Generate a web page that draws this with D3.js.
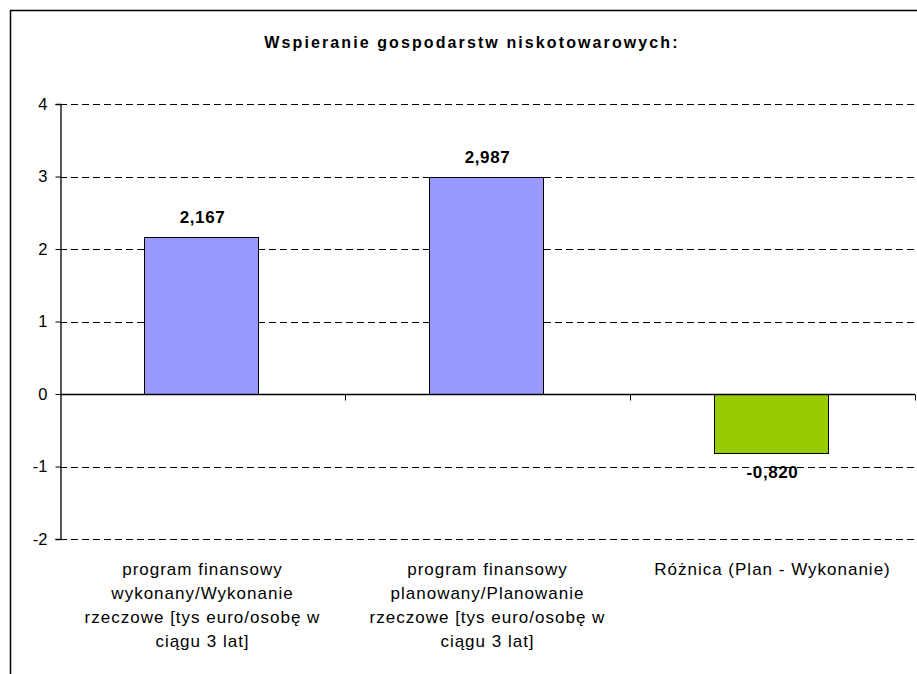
<!DOCTYPE html>
<html lang="pl">
<head>
<meta charset="UTF-8">
<title>Wspieranie gospodarstw niskotowarowych</title>
<script src="https://cdn.jsdelivr.net/npm/d3@7"></script>
<style>
    body{ margin:0; background:#fff; }
    svg{ display:block; font-family:"Liberation Sans", Arial, sans-serif; }
    .grid line{ stroke:#000; stroke-width:1px; stroke-dasharray:7,4; }
    .yaxis text{ font-size:16.5px; fill:#000; }
    .label{ font-size:17px; font-weight:bold; letter-spacing:0.6px; }
    .cat{ font-size:17px; letter-spacing:1px; }
</style>
</head>
<body>
<svg id="main" width="917" height="674"></svg>
<script>
    const categories = [
        ["program finansowy", "wykonany/Wykonanie", "rzeczowe [tys euro/osobę w", "ciągu 3 lat]"],
        ["program finansowy", "planowany/Planowanie", "rzeczowe [tys euro/osobę w", "ciągu 3 lat]"],
        ["Różnica (Plan - Wykonanie)"]
    ]
    const values = [2.167, 2.987, -0.820]
    const valueLabels = ["2,167", "2,987", "-0,820"]
    const barColors = ["#9999ff", "#9999ff", "#99cc00"]
    const yTicks = [-2, -1, 0, 1, 2, 3, 4]
    const title = "Wspieranie gospodarstw niskotowarowych:"

    const margins = {top: 104, bottom: 135, left: 60, right: 2}
    const W = 917, H = 674
    const svg = d3.select("#main")

    // frame
    svg.append("path")
        .attr("d", `M10.5,${H} L10.5,10.5 L${W},10.5`)
        .attr("fill", "none")
        .attr("stroke", "#000")
        .attr("stroke-width", 1.5)

    svg.append("text")
        .attr("x", 472).attr("y", 48)
        .attr("text-anchor", "middle")
        .attr("font-size", "16px")
        .attr("font-weight", "bold")
        .attr("letter-spacing", "2.1px")
        .text(title)

    const xScale = d3.scaleBand()
        .domain(d3.range(values.length))
        .range([margins.left, W - margins.right])
        .paddingInner(0.6)
        .paddingOuter(0.3)
    const yScale = d3.scaleLinear()
        .domain([-2, 4])
        .range([H - margins.bottom, margins.top])

    // dashed gridlines
    svg.append("g").attr("class", "grid")
        .selectAll("line")
        .data(yTicks.filter(d => d !== 0))
        .enter().append("line")
        .attr("x1", margins.left).attr("x2", W - margins.right)
        .attr("y1", d => Math.round(yScale(d)) + 0.5)
        .attr("y2", d => Math.round(yScale(d)) + 0.5)

    // bars
    svg.append("g")
        .selectAll("rect")
        .data(values)
        .enter().append("rect")
        .attr("x", (d, i) => Math.floor(xScale(i)) - 0.5)
        .attr("width", Math.round(xScale.bandwidth()))
        .attr("y", d => Math.round(yScale(Math.max(0, d))) + 0.5)
        .attr("height", d => Math.round(Math.abs(yScale(d) - yScale(0))))
        .attr("fill", (d, i) => barColors[i])
        .attr("stroke", "#000")
        .attr("stroke-width", 1)

    // y axis
    const yAxis = d3.axisLeft(yScale).tickValues(yTicks).tickFormat(d3.format("d")).tickSize(5).tickPadding(8)
    svg.append("g")
        .attr("class", "yaxis")
        .attr("transform", `translate(${margins.left + 0.5},0)`)
        .call(yAxis)
        .call(g => g.select(".domain").attr("stroke-width", 1.3))
        .call(g => g.selectAll("text").text(d => d < 0 ? "-" + Math.abs(d) : d))

    // zero line with category ticks
    const zeroY = Math.round(yScale(0)) + 0.5
    svg.append("line")
        .attr("x1", margins.left).attr("x2", W - margins.right)
        .attr("y1", zeroY).attr("y2", zeroY)
        .attr("stroke", "#000").attr("stroke-width", 1.3)
    const sep = d3.range(1, values.length + 1).map(i => margins.left + i * xScale.step())
    svg.append("g")
        .selectAll("line")
        .data(sep)
        .enter().append("line")
        .attr("x1", d => Math.floor(d) + 0.5).attr("x2", d => Math.floor(d) + 0.5)
        .attr("y1", zeroY).attr("y2", zeroY + 6)
        .attr("stroke", "#000")

    // value labels
    svg.append("g")
        .selectAll("text")
        .data(values)
        .enter().append("text")
        .attr("class", "label")
        .attr("text-anchor", "middle")
        .attr("x", (d, i) => xScale(i) + xScale.bandwidth() / 2)
        .attr("y", d => d >= 0 ? yScale(d) - 14 : yScale(d) + 25)
        .text((d, i) => valueLabels[i])

    // category labels
    const cats = svg.append("g")
        .selectAll("text")
        .data(categories)
        .enter().append("text")
        .attr("class", "cat")
        .attr("text-anchor", "middle")
        .attr("x", (d, i) => xScale(i) + xScale.bandwidth() / 2)
        .attr("y", 575)
    cats.selectAll("tspan")
        .data(d => d)
        .enter().append("tspan")
        .attr("x", function(){ return this.parentNode.getAttribute("x") })
        .attr("dy", (d, i) => i === 0 ? 0 : 24)
        .text(d => d)
</script>
</body>
</html>
